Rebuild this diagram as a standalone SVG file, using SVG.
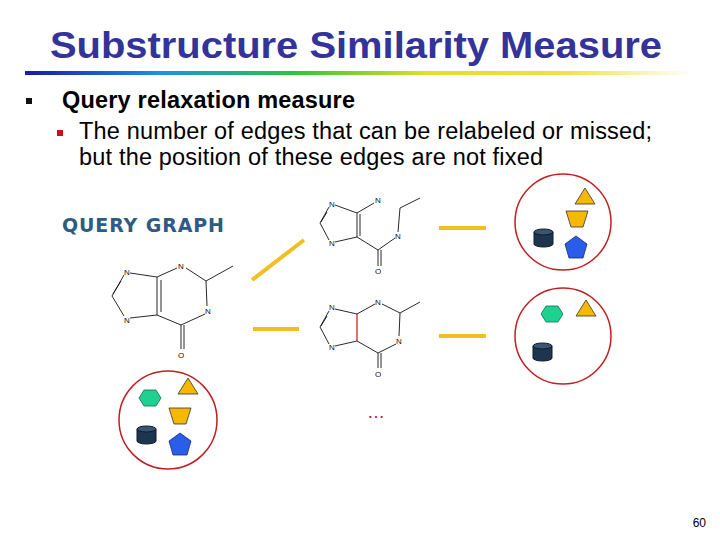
<svg xmlns="http://www.w3.org/2000/svg" width="720" height="540" viewBox="0 0 720 540">
<defs>
<linearGradient id="rb" x1="0" x2="1" y1="0" y2="0">
<stop offset="0" stop-color="#1a1aa0"/><stop offset="0.2" stop-color="#2090e0"/><stop offset="0.4" stop-color="#30c040"/><stop offset="0.6" stop-color="#e0e020"/><stop offset="0.8" stop-color="#f0e040"/><stop offset="1" stop-color="#ffffff"/>
</linearGradient>
<g id="cyl"><path d="M0,3 v12 a9.5,3 0 0 0 19,0 v-12" fill="#1e3550" stroke="#0b1a2a"/><ellipse cx="9.5" cy="3" rx="9.5" ry="3" fill="#3a5570" stroke="#0b1a2a"/></g>
<polygon id="tri" points="0,-9 10,7 -10,7" fill="#f6b800" stroke="#333" stroke-width="0.8"/>
<polygon id="trap" points="-11,-8 11,-8 6,8 -6,8" fill="#f6b800" stroke="#333" stroke-width="0.8"/>
<polygon id="pent" points="0,-12 11,-4 7,10 -7,10 -11,-4" fill="#2a5ee8" stroke="#1a2a70" stroke-width="0.8"/>
<polygon id="hex" points="-11,0 -6,-8 6,-8 11,0 6,8 -6,8" fill="#20d090" stroke="#0a7050" stroke-width="0.8"/>
</defs>
<style>
.b{stroke:#111;stroke-width:0.9;fill:none}
.r{stroke:#cc1111;stroke-width:1.2}
.a{font-family:"Liberation Sans",Arial,sans-serif;font-size:8px;fill:#111;text-anchor:middle}
.y{stroke:#f0c020;stroke-width:4}
.c{fill:#fff;stroke:#c02020;stroke-width:1.5}
.t{font-family:"Liberation Sans",Arial,sans-serif;font-size:23.5px;fill:#000}
</style>
<rect width="720" height="540" fill="#fff"/>
<text x="356" y="58" text-anchor="middle" font-family="Liberation Sans,Arial,sans-serif" font-weight="bold" font-size="36" textLength="612" lengthAdjust="spacingAndGlyphs" fill="#333399">Substructure Similarity Measure</text>
<rect x="25" y="71" width="668" height="4" fill="url(#rb)"/>
<rect x="26" y="98" width="6" height="6" fill="#111"/>
<text x="62" y="108" class="t" font-weight="bold" textLength="293">Query relaxation measure</text>
<rect x="57" y="130" width="6" height="6" fill="#cc1111"/>
<text x="79" y="139" class="t" textLength="573">The number of edges that can be relabeled or missed;</text>
<text x="79" y="165" class="t" textLength="464">but the position of these edges are not fixed</text>
<text x="62" y="232" font-family="DejaVu Sans,Verdana,sans-serif" font-weight="bold" font-size="19" textLength="162" fill="#2e5a85">QUERY GRAPH</text>

<g id="query">
<path class="b" d="M130,273 L157,277 L157,315 L130,318 M124,275 L112,296 L124,316 M121,281 L113,294 M161,280 L161,312 M157,277 L177,268 M186,268 L206,281 L207,306 M205,314 L181,325 L157,315 M181,325 L181,349 M184,325 L184,349 M206,281 L233,266"/>
<text class="a" x="127" y="275">N</text><text class="a" x="127" y="323">N</text><text class="a" x="181" y="269">N</text><text class="a" x="208" y="314">N</text><text class="a" x="181" y="358">O</text>
</g>

<g id="mol1">
<path class="b" d="M335,205 L357,213 L357,237 L335,242 M329,207 L320,223 L329,240 M327,212 L321,222 M360,214 L360,236 M357,213 L374,203 M357,237 L378,250 L395,238 M378,250 L378,266 M381,250 L381,266 M398,232 L400,208 L420,198"/>
<text class="a" x="332" y="207">N</text><text class="a" x="378" y="203">N</text><text class="a" x="332" y="246">N</text><text class="a" x="398" y="239">N</text><text class="a" x="378" y="274">O</text>
</g>

<g id="mol2">
<path class="b" d="M335,309 L357,314 M335,346 L357,341 M329,311 L320,327 L329,344 M327,316 L321,326 M357,314 L375,304 M382,304 L400,313 L399,336 M396,344 L378,353 L357,341 M378,353 L378,368 M381,353 L381,368 M400,313 L420,302"/>
<path class="r" d="M357,314 L357,341"/>
<text class="a" x="332" y="310">N</text><text class="a" x="378" y="305">N</text><text class="a" x="332" y="350">N</text><text class="a" x="399" y="344">N</text><text class="a" x="378" y="377">O</text>
</g>

<g id="connectors">
<line class="y" x1="252" y1="280" x2="304" y2="240"/>
<line class="y" x1="253" y1="329" x2="299" y2="329"/>
<line class="y" x1="439" y1="228" x2="486" y2="228"/>
<line class="y" x1="439" y1="336" x2="486" y2="336"/>
</g>

<g id="set-query">
<circle class="c" cx="168" cy="420" r="49"/>
<use href="#hex" x="150" y="398"/><use href="#tri" x="188" y="387"/><use href="#trap" x="180" y="416"/><use href="#cyl" x="137" y="426"/><use href="#pent" x="180" y="445"/>
</g>
<g id="set-1">
<circle class="c" cx="563" cy="222" r="48"/>
<use href="#tri" x="585" y="197"/><use href="#trap" x="577" y="219"/><use href="#cyl" x="534" y="229"/><use href="#pent" x="576" y="248"/>
</g>
<g id="set-2">
<circle class="c" cx="563" cy="336" r="48"/>
<use href="#hex" x="552" y="314"/><use href="#tri" x="586" y="309"/><use href="#cyl" x="533" y="343"/>
</g>
<text x="376" y="418" text-anchor="middle" font-family="Liberation Sans,Arial,sans-serif" font-size="18" fill="#cc1111">…</text>
<text x="706" y="527" text-anchor="end" font-family="Liberation Sans,Arial,sans-serif" font-size="12" fill="#000">60</text>
</svg>
